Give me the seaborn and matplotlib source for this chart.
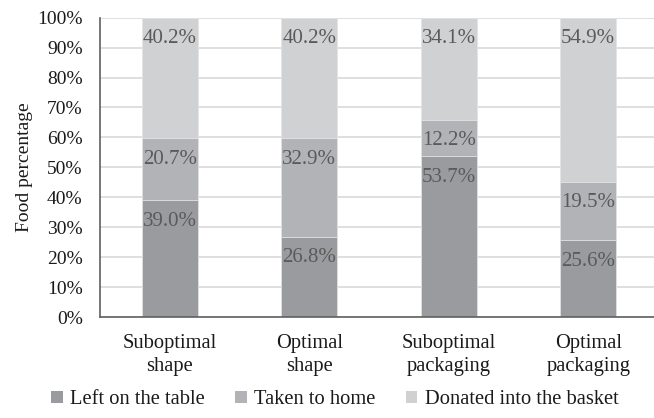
import numpy as np
import pandas as pd
import matplotlib
matplotlib.use("Agg")
import matplotlib.pyplot as plt
import seaborn as sns
from matplotlib.patches import Patch

categories = ["Suboptimal\nshape", "Optimal\nshape", "Suboptimal\npackaging", "Optimal\npackaging"]
series_names = ["Left on the table", "Taken to home", "Donated into the basket"]
left_on_table = [39.0, 26.8, 53.7, 25.6]
taken_home = [20.7, 32.9, 12.2, 19.5]
donated = [40.2, 40.2, 34.1, 54.9]
y_ticks = [0, 10, 20, 30, 40, 50, 60, 70, 80, 90, 100]

colors = ["#9a9b9e", "#b2b3b6", "#d0d1d3"]

sns.set_theme(style="white")
plt.rcParams["font.family"] = ["Liberation Serif", "DejaVu Serif"]

fig = plt.figure(figsize=(6.54, 4.18), dpi=100)
W, H = 654, 418
ax = fig.add_axes([100 / W, (H - 317) / H, (658 - 100) / W, (317 - 17.7) / H])

values = [left_on_table, taken_home, donated]
bottoms = np.zeros(len(categories))
tops = []
for vals in values:
    bottoms = bottoms + np.array(vals)
    tops.append(bottoms.copy())

# draw cumulative bars from the tallest down so each segment shows
for i in reversed(range(len(values))):
    df = pd.DataFrame({"cat": categories, "top": tops[i]})
    sns.barplot(data=df, x="cat", y="top", color=colors[i], width=0.4,
                saturation=1, edgecolor="#e4e4e4", linewidth=0.6, ax=ax, zorder=2)

# value labels near the top of each segment
for i, vals in enumerate(values):
    for j, v in enumerate(vals):
        ax.annotate(f"{v:.1f}%", xy=(j, tops[i][j]), xytext=(0, -15),
                    textcoords="offset points", ha="center", va="center",
                    fontsize=15, color="#5a5a5a", zorder=3)

ax.set_ylim(0, 100)
ax.set_xlim(-0.5, 3.5)
ax.set_yticks(y_ticks)
ax.set_yticklabels([f"{t}%" for t in y_ticks])
ax.yaxis.grid(True, color="#dcdcdc", linewidth=1.3, zorder=0)
ax.set_axisbelow(True)
ax.tick_params(axis="y", length=0, pad=12.5, labelsize=14, labelcolor="#1a1a1a")
ax.tick_params(axis="x", length=0, pad=12, labelsize=14.8, labelcolor="#1a1a1a")
for lab in ax.get_xticklabels():
    lab.set_linespacing(1.3)
ax.set_xlabel("")
ax.set_ylabel("Food percentage", fontsize=14, color="#1a1a1a", labelpad=3)
for s in ["top", "right"]:
    ax.spines[s].set_visible(False)
for s in ["left", "bottom"]:
    ax.spines[s].set_color("#606060")
    ax.spines[s].set_linewidth(1.2)

handles = [Patch(facecolor=c, edgecolor="none") for c in colors]
fig.legend(handles, series_names, loc="center", bbox_to_anchor=(0.512, 1 - 400 / H),
           ncol=3, frameon=False, fontsize=14.8, handlelength=0.55, handleheight=0.55,
           handletextpad=0.35, columnspacing=1.5, labelcolor="#1a1a1a")

fig.savefig("out.png", dpi=100)
